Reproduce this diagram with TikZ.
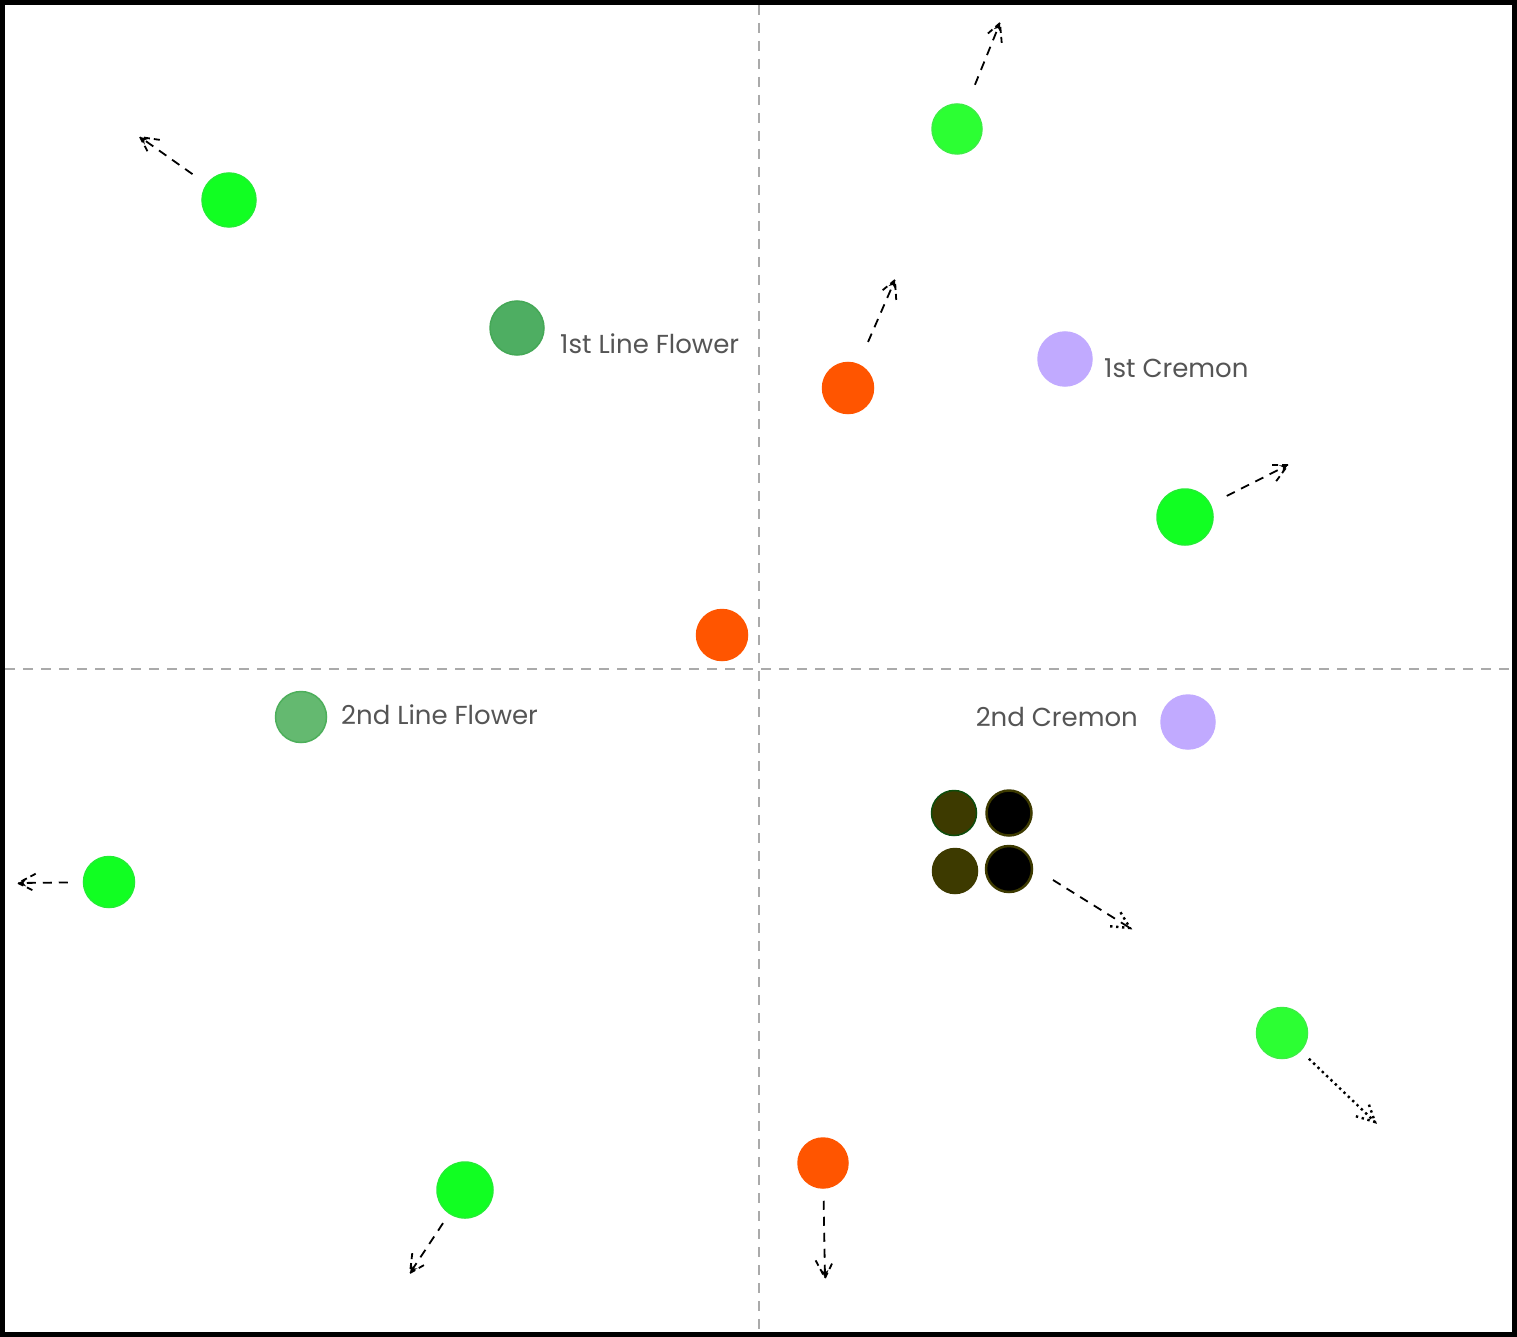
\documentclass[tikz,border=0pt]{standalone}
\usepackage{fontspec}
\setmainfont{Poppins}
\usetikzlibrary{arrows.meta,calc}
\definecolor{brgreen}{HTML}{11FF22}
\definecolor{brgreenb}{HTML}{22EE33}
\definecolor{ltgreen}{HTML}{2CFF33}
\definecolor{ltgreenb}{HTML}{3CEE44}
\definecolor{flowerA}{HTML}{4EAE62}
\definecolor{flowerAb}{HTML}{45A857}
\definecolor{flowerB}{HTML}{64B970}
\definecolor{flowerBb}{HTML}{4DAF5B}
\definecolor{orng}{HTML}{FF5500}
\definecolor{lav}{HTML}{C1AAFF}
\definecolor{olive}{HTML}{3D3A00}
\definecolor{dkgreen}{HTML}{0D4D0D}
\definecolor{txtgray}{HTML}{555555}
\definecolor{gridgray}{HTML}{AAAAAA}
\newcommand\mkarrow[4]{%
  \draw[#1] (#3) -- (#4);
  \draw[#2] ($(#4)!20pt!27:(#3)$) -- (#4) -- ($(#4)!20pt!-27:(#3)$);}
\tikzset{
  dot/.style={circle,inner sep=0pt,line width=1.5pt},
  bgreen/.style={dot,fill=brgreen,draw=brgreenb,minimum size=54pt},
  lgreen/.style={dot,fill=ltgreen,draw=ltgreenb,minimum size=50pt},
  orangedot/.style={dot,fill=orng,draw=orng,minimum size=51pt},
  lavdot/.style={dot,fill=lav,draw=lav,minimum size=54pt},
  lbl/.style={text=txtgray,font=\fontsize{26pt}{31pt}\selectfont,inner sep=0pt},
  dashline/.style={line width=1.8pt,dash pattern=on 9pt off 7pt,-{Stealth[length=8pt,width=7pt]}},
  dashbarb/.style={line width=1.8pt,dash pattern=on 6pt off 4pt},
  dotline/.style={line width=2.4pt,dash pattern=on 2.4pt off 3.6pt},
  grid/.style={gridgray,line width=1.8pt,dash pattern=on 10pt off 8pt},
}
\begin{document}
\begin{tikzpicture}[x=1pt,y=-1pt]
\useasboundingbox (0,0) rectangle (1517,1337);
\fill[white] (0,0) rectangle (1517,1337);
% grid
\coordinate (vt) at (759,5);
\coordinate (vb) at (759,1332);
\coordinate (hl) at (5,669);
\coordinate (hr) at (1512,669);
\draw[grid] (vt) -- (vb);
\draw[grid] (hl) -- (hr);
% circles
\node[bgreen] (g1) at (229,200) {};
\node[dot,fill=flowerA,draw=flowerAb,minimum size=54pt] (f1) at (517,328) {};
\node[lgreen] (g2) at (957,129) {};
\node[orangedot] (o1) at (848,388) {};
\node[lavdot] (c1) at (1065,359) {};
\node[bgreen,minimum size=56pt] (g3) at (1185,517) {};
\node[orangedot] (o2) at (722,635) {};
\node[dot,fill=flowerB,draw=flowerBb,minimum size=51pt] (f2) at (301,717) {};
\node[lavdot] (c2) at (1188,722) {};
\node[bgreen,minimum size=51pt] (g4) at (109,882) {};
\node[dot,fill=olive,draw=dkgreen,minimum size=45pt] (k1) at (954,813) {};
\node[dot,fill=black,draw=olive,line width=2.5pt,minimum size=45pt] (k2) at (1009,813) {};
\node[dot,fill=olive,draw=olive,minimum size=45pt] (k3) at (955,871) {};
\node[dot,fill=black,draw=olive,line width=2.5pt,minimum size=46pt] (k4) at (1009,869) {};
\node[lgreen,minimum size=51pt] (g5) at (1282,1033) {};
\node[orangedot,minimum size=50pt] (o3) at (823,1163) {};
\node[bgreen,minimum size=56pt] (g6) at (465,1190) {};
% labels
\node[lbl,anchor=base west] (t1) at (560,353) {1st Line Flower};
\node[lbl,anchor=base west] (t2) at (1104,377) {1st Cremon};
\node[lbl,anchor=base west] (t3) at (341,724) {2nd Line Flower};
\node[lbl,anchor=base east] (t4) at (1138,726) {2nd Cremon};
% arrow ends
\coordinate (e1) at (140,137);
\coordinate (e2) at (1000,23);
\coordinate (e3) at (895,280);
\coordinate (e4) at (1288,465);
\coordinate (e5) at (18,883);
\coordinate (ks) at (1053,880);
\coordinate (e6) at (1130,928);
\coordinate (e7) at (1375,1122);
\coordinate (e8) at (825,1278);
\coordinate (e9) at (410,1273);
% arrows
\mkarrow{dashline,shorten <=17pt}{dashbarb}{g1}{e1}
\mkarrow{dashline,shorten <=22pt}{dashbarb}{g2}{e2}
\mkarrow{dashline,shorten <=24pt}{dashbarb}{o1}{e3}
\mkarrow{dashline,shorten <=18pt}{dashbarb}{g3}{e4}
\mkarrow{dashline,shorten <=15pt}{dashbarb}{g4}{e5}
\mkarrow{line width=1.8pt,dash pattern=on 9pt off 7pt}{dotline}{ks}{e6}
\mkarrow{dotline,shorten <=11pt}{dotline}{g5}{e7}
\mkarrow{dashline,shorten <=12pt}{dashbarb}{o3}{e8}
\mkarrow{dashline,shorten <=11pt}{dashbarb}{g6}{e9}
% frame
\draw[line width=5pt] (2.5,2.5) rectangle (1514.5,1334.5);
\end{tikzpicture}
\end{document}
